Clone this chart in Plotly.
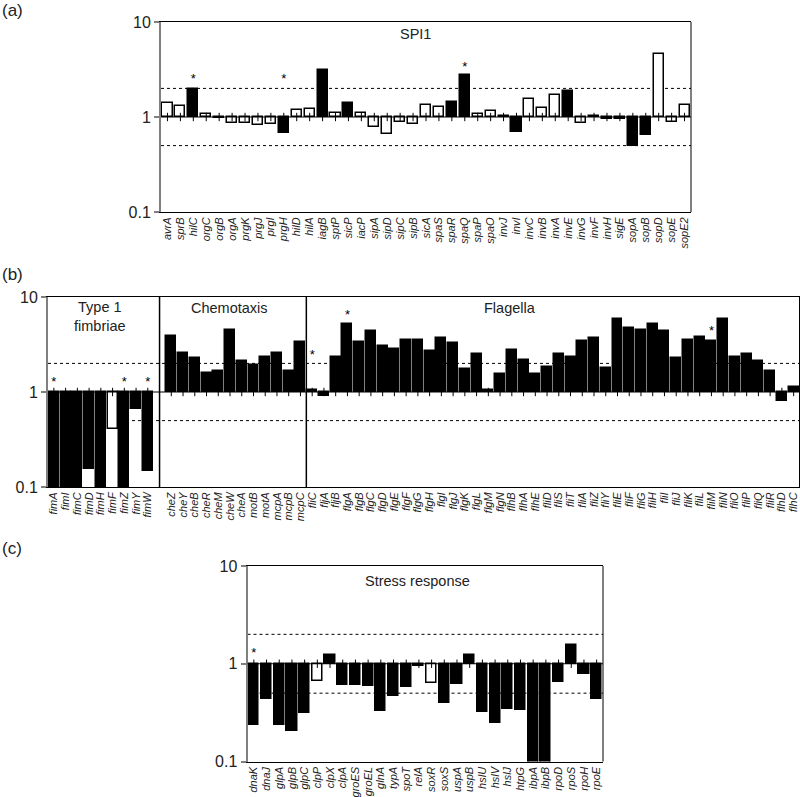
import plotly.graph_objects as go

# ---- data -----------------------------------------------------------------
genes_a = ['avrA', 'sprB', 'hilC', 'orgC', 'orgB', 'orgA', 'prgK', 'prgJ', 'prgI', 'prgH',
           'hilD', 'hilA', 'iagB', 'sptP', 'sicP', 'iacP', 'sipA', 'sipD', 'sipC', 'sipB',
           'sicA', 'spaS', 'spaR', 'spaQ', 'spaP', 'spaO', 'invJ', 'invI', 'invC', 'invB',
           'invA', 'invE', 'invG', 'invF', 'invH', 'sigE', 'sopA', 'sopB', 'sopD', 'sopE', 'sopE2']
vals_a = [1.42, 1.31, 1.99, 1.08, 0.98, 0.86, 0.86, 0.83, 0.84, 0.68,
          1.18, 1.22, 3.1, 1.09, 1.42, 1.09, 0.79, 0.66, 0.88, 0.85,
          1.35, 1.28, 1.45, 2.75, 1.08, 1.16, 1.03, 0.70, 1.55, 1.25,
          1.69, 1.88, 0.87, 1.03, 0.95, 0.95, 0.50, 0.64, 4.64, 0.88, 1.35]
fill_a = 'wwkwkwwwwkwwkwkwwwwwwwkkwwkkwwwkwkkkkkwww'
stars_a = ['hilC', 'prgH', 'spaQ']
star_y_a = [2.45, 2.45, 3.3]

genes_fim = ['fimA', 'fimI', 'fimC', 'fimD', 'fimH', 'fimF', 'fimZ', 'fimY', 'fimW']
vals_fim = [0.05, 0.05, 0.05, 0.156, 0.05, 0.41, 0.05, 0.66, 0.147]
genes_che = ['cheZ', 'cheY', 'cheB', 'cheR', 'cheM', 'cheW', 'cheA', 'motB', 'motA',
             'mcpA', 'mcpB', 'mcpC']
vals_che = [3.85, 2.57, 2.28, 1.58, 1.65, 4.53, 2.14, 1.94, 2.33, 2.59, 1.68, 3.39]
genes_fla = ['fliC', 'fljA', 'fljB', 'flgA', 'flgB', 'flgC', 'flgD', 'flgE', 'flgF', 'flgG',
             'flgH', 'flgI', 'flgJ', 'flgK', 'flgL', 'flgM', 'flgN', 'flhB', 'flhA', 'flhE',
             'fliD', 'fliS', 'fliT', 'fliA', 'fliZ', 'fliY', 'fliE', 'fliF', 'fliG', 'fliH',
             'fliI', 'fliJ', 'fliK', 'fliL', 'fliM', 'fliN', 'fliO', 'fliP', 'fliQ', 'fliR',
             'flhD', 'flhC']
vals_fla = [1.06, 0.90, 2.33, 5.24, 3.33, 4.39, 3.05, 2.84, 3.50, 3.50,
            2.70, 3.73, 3.28, 1.76, 2.51, 1.06, 1.55, 2.75, 2.19, 1.53,
            1.82, 2.53, 2.33, 3.47, 3.73, 1.79, 5.87, 4.75, 4.46, 5.15,
            4.39, 2.30, 3.56, 3.82, 3.41, 5.91, 2.33, 2.49, 2.12, 1.66,
            0.81, 1.13]
white_b = ['fimF']
stars_b = ['fimA', 'fimZ', 'fimW', 'fliC', 'flgA', 'fliM']
star_y_b = [1.24, 1.24, 1.24, 2.39, 6.4, 4.28]

genes_c = ['dnaK', 'dnaJ', 'glpA', 'glpB', 'glpC', 'clpP', 'clpX', 'clpA', 'groES', 'groEL',
           'glnA', 'typA', 'spoT', 'relA', 'soxR', 'soxS', 'uspA', 'uspB', 'hslU', 'hslV',
           'hslJ', 'htpG', 'ibpA', 'ibpB', 'rpoD', 'rpoS', 'rpoH', 'rpoE']
vals_c = [0.234, 0.437, 0.238, 0.203, 0.314, 0.664, 1.22, 0.613, 0.613, 0.59,
          0.326, 0.466, 0.585, 0.946, 0.638, 0.40, 0.628, 1.22, 0.319, 0.248,
          0.345, 0.34, 0.05, 0.05, 0.648, 1.54, 0.777, 0.44]
white_c = ['clpP', 'soxR']
stars_c = ['dnaK']
star_y_c = [1.28]

# ---- layout helpers --------------------------------------------------------
W, H = 800, 797
FONT = 'Arial, Liberation Sans, sans-serif'


def px(x0, x1):
    return [x0 / W, x1 / W]


def py(top, bottom):
    return [1 - bottom / H, 1 - top / H]


fig = go.Figure()


def add_panel(n, genes, vals, colors, pos, stars, star_y, width, xd, yd, nslots):
    xa = 'x' if n == 1 else 'x%d' % n
    ya = 'y' if n == 1 else 'y%d' % n
    fig.add_trace(go.Bar(
        x=pos, y=[v - 1 for v in vals], base=[1] * len(vals), width=width,
        marker=dict(color=colors, line=dict(color='black', width=1.5)),
        xaxis=xa, yaxis=ya, showlegend=False))
    # small category ticks on the y=1 line
    fig.add_trace(go.Scatter(
        x=pos, y=[1] * len(pos), mode='markers',
        marker=dict(symbol='line-ns', size=6, line=dict(color='black', width=1)),
        xaxis=xa, yaxis=ya, showlegend=False, hoverinfo='skip'))
    sx = [pos[genes.index(g)] for g in stars]
    fig.add_trace(go.Scatter(
        x=sx, y=star_y, mode='text', text=['*'] * len(sx),
        textfont=dict(family=FONT, size=13, color='black'),
        xaxis=xa, yaxis=ya, showlegend=False, hoverinfo='skip'))

    key = '' if n == 1 else str(n)
    fig.update_layout(**{
        'xaxis' + key: dict(
            domain=xd, anchor=ya, range=[-0.5, nslots - 0.5], automargin=False,
            tickmode='array', tickvals=pos, ticktext=['<i>%s</i>' % g for g in genes],
            tickangle=-90, tickfont=dict(family=FONT, size=11, color='#222'),
            showline=True, mirror=True, linecolor='black', linewidth=1,
            ticks='', showgrid=False, zeroline=False, fixedrange=True),
        'yaxis' + key: dict(
            domain=yd, anchor=xa, type='log', range=[-1, 1], automargin=False,
            tickmode='array', tickvals=[0.1, 1, 10], ticktext=['0.1', '1', '10'],
            ticks='outside', ticklen=5, tickcolor='#808080', tickwidth=1.5,
            tickfont=dict(family=FONT, size=16, color='#222'),
            showline=True, linecolor='#808080', linewidth=2,
            showgrid=False, zeroline=False),
    })
    xdom = xa + ' domain'
    ydom = ya + ' domain'
    fig.add_shape(type='line', xref=xdom, yref=ydom, x0=1, x1=1, y0=0, y1=1,
                  line=dict(color='black', width=1))
    for lvl in (2, 0.5):
        fig.add_shape(type='line', xref=xdom, yref=ya, x0=0, x1=1, y0=lvl, y1=lvl,
                      line=dict(color='black', width=1, dash='dot'), layer='below')
    fig.add_shape(type='line', xref=xdom, yref=ya, x0=0, x1=1, y0=1, y1=1,
                  line=dict(color='black', width=1))


# panel a
col_a = ['black' if c == 'k' else 'white' for c in fill_a]
add_panel(1, genes_a, vals_a, col_a, list(range(len(genes_a))), stars_a, star_y_a,
          0.78, px(161, 691), py(22, 212), len(genes_a))

# panel b (one empty slot between fimbriae and chemotaxis)
genes_b = genes_fim + genes_che + genes_fla
vals_b = vals_fim + vals_che + vals_fla
pos_b = list(range(len(genes_fim))) + list(range(len(genes_fim) + 1, len(genes_b) + 1))
col_b = ['white' if g in white_b else 'black' for g in genes_b]
add_panel(2, genes_b, vals_b, col_b, pos_b, stars_b, star_y_b,
          0.85, px(48, 799.5), py(297, 487), len(genes_b) + 1)
for sep in (len(genes_fim), len(genes_fim) + len(genes_che) + 0.5):
    fig.add_shape(type='line', xref='x2', yref='y2 domain', x0=sep, x1=sep, y0=0, y1=1,
                  line=dict(color='black', width=1.5))

# panel c
col_c = ['white' if g in white_c else 'black' for g in genes_c]
add_panel(3, genes_c, vals_c, col_c, list(range(len(genes_c))), stars_c, star_y_c,
          0.8, px(247.5, 603), py(566, 761.5), len(genes_c))

# ---- text ------------------------------------------------------------------
labels = [('(a)', 0, 11), ('(b)', 0, 275), ('(c)', 0, 548)]
for t, x, y in labels:
    fig.add_annotation(text=t, x=x / W, y=1 - y / H, xref='paper', yref='paper',
                       xanchor='left', yanchor='middle', showarrow=False,
                       font=dict(family=FONT, size=17, color='#222'))

titles = [('SPI1', 415, 34), ('Type 1<br>fimbriae', 100, 316), ('Chemotaxis', 229, 308),
          ('Flagella', 510, 308), ('Stress response', 417, 581)]
for t, x, y in titles:
    fig.add_annotation(text=t, x=x / W, y=1 - y / H, xref='paper', yref='paper',
                       xanchor='center', yanchor='middle', showarrow=False,
                       font=dict(family=FONT, size=14.5, color='#222'))

fig.update_layout(
    width=W, height=H,
    margin=dict(l=0, r=0, t=0, b=0),
    plot_bgcolor='white', paper_bgcolor='white',
    bargap=0, showlegend=False,
)

# page body has a default 8px margin; drop it so the figure sits at the corner
fig.write_html("out.html", config={'displayModeBar': False},
               post_script="document.body.style.margin='0';")
